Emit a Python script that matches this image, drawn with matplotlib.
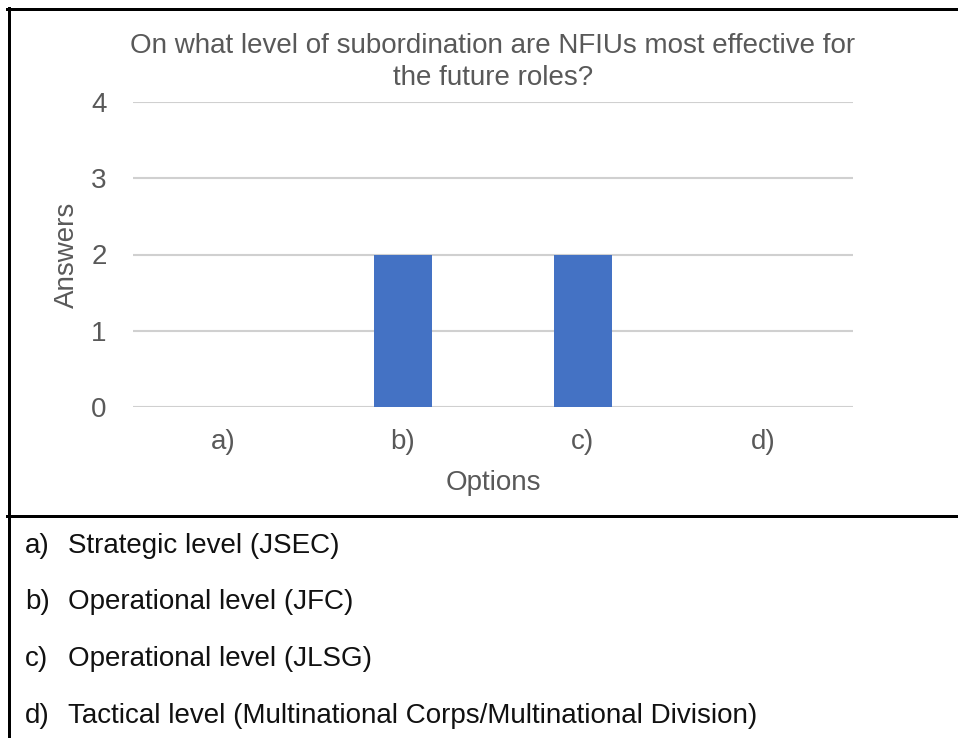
import matplotlib
matplotlib.use("Agg")
from matplotlib import pyplot as plt
from matplotlib.lines import Line2D

options = ["a)", "b)", "c)", "d)"]
answers = [0, 2, 2, 0]
y_ticks = [0, 1, 2, 3, 4]
title = "On what level of subordination are NFIUs most effective for\nthe future roles?"
descriptions = [
    "Strategic level (JSEC)",
    "Operational level (JFC)",
    "Operational level (JLSG)",
    "Tactical level (Multinational Corps/Multinational Division)",
]

plt.rcParams['font.family'] = ['Liberation Sans', 'DejaVu Sans']
W, H = 958, 738
grey = "#595959"

fig = plt.figure(figsize=(W / 100, H / 100), dpi=100)
fig.patch.set_facecolor("white")

# plot area in pixels: x 133..853, y 102..407
ax = fig.add_axes([133 / W, (H - 407) / H, 720 / W, 305 / H])
x = range(len(options))
ax.bar(x, answers, width=0.32, color="#4472C4", zorder=3)
ax.set_xlim(-0.5, len(options) - 0.5)
ax.set_ylim(0, 4)
ax.set_yticks(y_ticks)
ax.set_xticks(list(x))
ax.set_xticklabels(options)
ax.yaxis.grid(True, color="#D0D0D0", linewidth=1.5, zorder=0)
ax.set_axisbelow(True)
for s in ax.spines.values():
    s.set_visible(False)
ax.tick_params(length=0, labelsize=20, colors=grey)
ax.tick_params(axis="y", pad=19)
ax.tick_params(axis="x", pad=16)
ax.set_xlabel("Options", fontsize=20, color=grey, labelpad=11)
ax.set_ylabel("Answers", fontsize=20, color=grey, labelpad=8)
ax.set_title(title, fontsize=20, color=grey, pad=12, linespacing=1.3)

# frame around the chart and the options list
lw = 3 * 72 / 100
fig.add_artist(Line2D([8.5 / W, 8.5 / W], [0, 1 - 8 / H], color="black", lw=lw))
fig.add_artist(Line2D([7 / W, 1], [1 - 9 / H, 1 - 9 / H], color="black", lw=lw))
fig.add_artist(Line2D([7 / W, 1], [1 - 516 / H, 1 - 516 / H], color="black", lw=lw))

row_y = [546, 602, 659, 716]
for opt, desc, yy in zip(options, descriptions, row_y):
    fig.text(25 / W, 1 - yy / H, opt, fontsize=20, color="#111111", va="center")
    fig.text(68 / W, 1 - yy / H, desc, fontsize=20, color="#111111", va="center")

fig.savefig("out.png", dpi=100)
